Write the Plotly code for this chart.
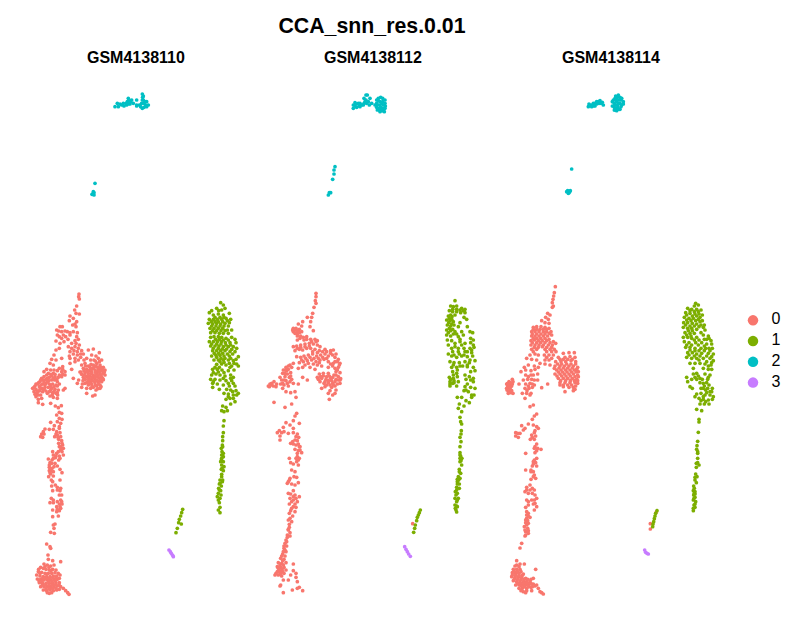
import plotly.graph_objects as go

# values, one list per sample/cluster, in the panel's own units
SAMPLES = ['GSM4138110', 'GSM4138112', 'GSM4138114']
CLUSTERS = ['0', '1', '2', '3']
COLORS = ['#F8766D', '#7CAE00', '#00BFC4', '#C77CFF']

s1_c0 = [(177,42),(176,50),(178,57),(170,78),(164,90),(150,108),(168,100),(178,102),(148,122),(160,115),(170,125),(165,132),(158,135),(168,140),
 (120,140),(127,140),(110,150),(116,153),(125,155),(135,153),(142,155),(150,158),(160,155),(130,165),(137,170),(125,175),(172,158),(170,170),(175,178),(165,182),(108,183),(120,190),(132,185),(118,205),(108,210),(102,225),(95,238),(90,250),(100,255),(125,235),(145,200),(155,205),(165,200),(175,205),(185,212),(205,210),(220,207),(150,215),(160,222),(172,225),(182,232),(190,222),(148,228),(175,240),(192,240),(200,235),(212,240),(150,250),(165,245),(155,268),(185,255),(195,250),(205,258),(215,225),(228,228),(238,218),(222,240),(235,235),(245,240),
 (190,265),(200,268),(210,262),(220,255),(230,250),(240,255),(250,262),(255,270),(245,272),(235,268),(225,270),(215,275),(205,280),(195,278),(185,283),(190,292),(200,290),(210,288),(220,285),(230,282),(240,280),(250,280),(255,285),(245,292),(235,292),(225,296),(215,298),(205,302),(195,310),(205,315),(215,312),(225,308),(235,305),(245,305),(240,315),(230,318),(220,322),(212,325),(240,325),(228,330),(172,310),(185,322),(160,295),(200,340),(225,345),(218,348),(248,295),(228,258),(218,265),(238,245),(208,272),(242,262),(232,275),(222,292),(212,305),(200,325),
 (38,325),(45,318),(52,312),(60,305),(65,295),(72,290),(80,285),(88,292),(95,288),(105,290),(115,292),(125,290),(135,285),(80,268),(92,270),(118,265),(128,260),(135,275),(125,275),(70,300),(78,298),(86,302),(95,300),(104,300),(112,305),(118,312),(108,315),(98,312),(88,312),(78,310),(68,312),(58,320),(48,328),(42,335),(50,340),(58,333),(66,325),(75,322),(85,322),(95,325),(105,328),(115,330),(108,340),(98,338),(88,335),(78,333),(68,335),(48,350),(55,358),(62,345),(90,348),(100,352),(113,345),(112,355),(130,330),(135,325),(55,368),(68,373),(92,370),(106,378),(124,377),(115,383),(62,300),(72,275),(85,280),(100,280),
 (118,397),(125,400),(110,405),(118,415),(126,418),(112,425),(122,430),(92,427),(103,437),(75,447),(70,455),(65,462),(62,470),(72,462),(68,472),(88,448),(100,448),(118,445),(110,455),(120,458),(112,465),(104,470),(122,470),(116,478),(125,482),(116,490),(128,495),(118,500),(130,505),(122,510),(98,515),(126,515),(110,520),(100,525),(118,528),(130,525),(106,533),(85,537),(96,540),(116,540),(90,548),(105,550),(112,558),(88,562),(96,565),(88,572),(100,575),(120,568),(126,578),(92,582),(100,588),(86,590),(94,600),(120,600),(106,615),(95,618),(112,622),(122,625),(98,632),(118,645),(125,645),(94,655),(100,660),(112,665),(122,660),(90,668),(118,672),(126,672),(110,680),(122,685),(98,690),(110,695),(118,692),(115,708),(98,710),(105,732),(100,735),(102,745),(92,757),(103,760),
 (80,792),(90,800),(92,805),(84,825),(85,838),(98,842),(122,845),(72,852),(82,855),(92,858),(102,855),(62,862),(70,865),(78,868),(88,870),(98,868),(55,875),(65,877),(75,880),(85,880),(95,880),(105,878),(115,880),(50,885),(60,888),(70,890),(80,890),(90,890),(100,888),(110,888),(120,885),(52,897),(62,898),(72,900),(82,900),(92,900),(102,898),(112,898),(118,895),(58,908),(68,910),(78,910),(88,910),(98,910),(108,908),(118,908),(62,920),(72,920),(82,920),(92,920),(102,920),(112,918),(122,920),(70,930),(80,932),(90,930),(100,932),(88,940),(110,930),(130,925),(137,932),(143,938),(147,943)]
s1_c0_more = [(197,258),(213,253),(226,243),(243,268),(233,262),(222,262),(212,268),(202,274),(192,272),(183,276),(193,285),(204,286),(214,281),(226,277),(237,275),(248,272),(253,276),(243,286),(234,287),(226,290),(216,292),(206,294),(196,298),(189,302),(200,308),(210,300),(220,303),(230,301),(240,298),(250,299),(236,312),(226,315),(216,318),(208,310),(243,320),(233,326),(180,276),(176,300),(187,312),
 (42,322),(48,312),(56,308),(63,315),(72,305),(82,295),(92,283),(100,295),(110,298),(118,285),(128,283),(105,283),(75,315),(83,305),(92,318),(102,320),(112,318),(60,328),(52,335),(45,343),(72,328),(82,340),(92,330),(102,335),(112,338),(55,345),(65,355),(97,345),
 (112,165),(150,165),(144,178),(155,190),(168,190),(178,195),(162,212),(172,215),(182,222),(150,235),(165,235),(128,268),(112,272),(102,270),(108,240),(118,170),
 (118,440),(108,462),(114,472),(126,490),(122,500),(124,505),(115,515),(108,528),(120,535),(100,535),(95,550),(88,555),(92,572),(102,560),(90,578),(98,605),(112,630),(120,632),(100,668),(120,680),(112,688),(125,665),
 (56,868),(75,860),(87,862),(60,880),(80,882),(93,872),(108,870),(68,895),(78,895),(88,895),(98,893),(108,893),(57,902),(66,905),(86,905),(96,905),(105,903),(67,915),(77,915),(87,915),(97,915),(107,914),(117,914),(78,926),(88,926),(98,926),(108,925),(95,938),(82,938),(118,928)]

s1_c1 = [(602,68),(610,75),(575,92),(590,85),(605,90),(615,85),(628,100),(568,98),(580,105),(595,102),(610,105),(568,118),(580,118),(592,118),(605,118),(618,115),(632,118),(565,130),(578,132),(590,130),(602,132),(615,130),(628,128),(570,145),(582,145),(595,145),(608,145),(622,150),(635,150),(572,158),(585,158),(598,160),(610,160),(625,160),(582,170),(595,170),(605,172),(618,175),(635,172),(645,178),(568,185),(580,185),(592,185),(604,185),(616,188),(630,188),(648,188),(572,198),(585,198),(597,198),(610,200),(625,200),(640,200),(650,205),(578,212),(590,212),(602,212),(615,212),(630,215),(645,215),(575,228),(588,226),(600,226),(612,228),(628,228),(655,230),(582,240),(595,240),(610,240),(625,240),(640,242),(650,252),(590,253),(605,252),(618,255),(635,258),(655,258),(578,268),(592,268),(606,270),(625,272),(642,270),(575,285),(588,282),(600,285),(615,288),(632,285),(640,292),(572,298),(585,298),(600,300),(618,302),(635,302),(578,310),(592,312),(610,315),(628,318),(645,318),(578,322),(598,328),(620,328),(632,330),(648,332),(655,340),(612,340),(625,342),(640,345),(630,355),(618,358),(645,365),(632,372),(608,378),(618,382),(605,392),(612,395),(622,392),
 (612,422),(610,438),(610,458),(608,470),(608,482),(607,495),(604,505),(606,515),(605,525),(610,530),(604,540),(610,545),(605,555),(612,560),(604,568),(610,572),(605,590),(600,600),(607,605),(598,612),(604,618),(596,625),(602,632),(595,640),(603,645),(592,650),(600,655),(598,668),(600,682),(595,690),(600,698),
 (488,688),(485,698),(482,708),(478,718),(476,728),(484,732),(472,745),(468,758)]
s1_c1_more = [(596,92),(585,112),(600,112),(612,112),(622,122),(574,125),(585,125),(595,125),(608,125),(575,138),(588,138),(600,138),(612,138),(625,138),(578,152),(590,152),(603,152),(615,152),(572,172),(587,178),(598,178),(610,180),(625,180),(575,192),(590,192),(603,192),(618,195),(632,195),(580,205),(595,205),(607,207),(620,207),(635,208),(583,220),(596,220),(608,220),(622,222),(638,222),(590,232),(603,235),(615,235),(632,235),(648,238),(600,245),(612,247),(628,250),(642,250),(585,262),(598,262),(630,262),(580,278),(595,276),(612,278),(632,295),(610,295),(580,305),(625,310),(640,310),(638,335),(625,350),(640,355),(650,345),(608,600),(602,545),(608,500),(600,610),(598,630),(605,535),(610,520),(606,565),(595,660),(605,583)]

s1_c2 = [(285,-520),(292,-530),(300,-528),(310,-530),(318,-530),(325,-545),(322,-535),(330,-528),(335,-540),(340,-530),(350,-525),(358,-525),(365,-530),(367,-515),(370,-552),(367,-558),(370,-540),(377,-525),(385,-525),(380,-535),(367,-540),(372,-530),(350,-540),(225,-290),(220,-265),(218,-258),(222,-255),(216,-257),(222,-262),
 (326,-538),(320,-525),(305,-525),(295,-520),(332,-535),(325,-528),(312,-522),(362,-520),(372,-518),(380,-520),(368,-548),(350,-522),(375,-535)]

s1_c3 = [(447,810),(451,815),(454,820),(458,826),(460,830)]

s2_c0 = [(168,40),(168,50),(166,62),(168,70),(162,82),(158,100),(155,112),(142,112),(152,125),(128,125),(115,132),(125,138),(100,145),(108,145),(118,148),(100,155),(110,158),(125,155),(150,140),(160,152),(112,168),(122,168),(132,180),(112,180),(140,178),(152,178),(165,178),(172,182),(100,200),(110,198),(122,195),(135,192),(148,190),(160,192),(172,195),(180,200),(105,212),(118,208),(128,210),(140,205),(152,205),(165,208),(178,212),(195,208),(212,212),(220,210),(228,222),(110,230),(122,232),(132,228),(145,225),(158,222),(170,228),(182,225),(195,222),(205,228),(218,225),(235,238),(118,248),(130,245),(142,242),(155,240),(168,245),(180,240),(192,238),(205,245),(225,245),(240,250),(100,250),(90,255),(115,265),(128,262),(150,262),(165,268),(185,258),(205,262),(218,258),(235,262),(228,275),(178,282),(190,288),(205,280),(222,285),(235,290),(242,296),(185,295),(198,298),(212,295),(228,298),(172,292),(180,305),(192,310),(205,308),(218,310),(232,312),(240,310),(195,320),(215,322),(225,318),(185,325),(210,332),(225,340),(218,345),(205,340),(208,358),
 (28,320),(35,310),(42,305),(50,312),(25,318),(48,320),(60,292),(70,270),(78,262),(85,258),(95,262),(68,280),(80,272),(92,278),(75,290),(88,292),(65,300),(78,302),(90,305),(100,310),(115,312),(72,315),(85,318),(68,325),(78,335),(92,338),(105,335),(142,300),(128,292),(108,352),(42,367),(75,382),(95,372),
 (110,400),(105,408),(100,422),(118,430),(78,428),(70,442),(90,435),(100,445),(58,452),(52,458),(65,458),(60,468),(72,455),(60,480),(85,460),(100,458),(112,462),(116,472),(105,480),(92,490),(100,492),(115,492),(118,500),(105,508),(120,510),(125,518),(112,520),(118,535),(110,545),(88,535),(92,548),(100,552),(115,555),(95,570),(105,575),(90,595),(102,590),(110,592),(85,605),(95,612),(105,615),(115,608),(100,632),(85,640),(105,645),(118,650),(90,655),(100,660),(112,665),(88,672),(100,680),(108,682),(92,692),(105,695),(98,708),(85,720),(95,725),(88,733),(85,748),(90,758),(82,765),(90,768),(78,780),(75,790),(80,798),(72,805),(78,815),(68,822),(75,828),(62,835),(72,838),(55,848),(65,850),(78,848),(52,860),(62,862),(72,862),(58,872),(68,875),(78,870),(45,885),(55,885),(65,888),(100,852),(100,872),(108,880),(92,885),(85,900),(70,900),(108,892),(112,905),(62,915),(60,918),(118,922),(97,930),(112,925),(128,932),(70,938),(458,731)]
s2_c0_more = [(104,150),(112,152),(105,160),(98,150),(112,162),(118,158),(120,175),(130,172),(140,170),(155,185),(168,185),(148,198),(135,200),(122,202),(112,205),(158,215),(172,218),(188,215),(200,215),(212,220),(225,232),(232,245),(220,250),(212,252),(238,255),(225,265),(232,270),(240,278),(228,285),(218,292),(208,288),(200,290),(190,280),(182,290),(175,298),(195,305),(205,302),(215,302),(225,305),(235,300),(240,300),(200,315),(210,315),(220,315),(228,330),(75,280),(85,268),(75,270),(82,282),(92,288),(72,300),(82,310),(95,298),(62,312),(35,315),(40,318),(30,312),(68,310),(125,240),(137,235),(150,232),(162,235),(175,235),(188,232),(200,235),(135,255),(145,250),(160,252),(172,255),(178,248),
 (108,470),(112,482),(98,485),(108,495),(120,500),(115,512),(112,530),(108,535),(115,540),(88,600),(82,610),(92,642),(100,650),(108,655),(95,665),(105,672),(95,685),(88,700),(90,715),(85,750),(88,742),(82,772),(80,785),(72,798),(75,810),(70,815),(65,828),(68,842),(60,855),(70,855),(55,865),(62,882),(72,880),(48,880),(60,878),(52,875),(66,868)]

s2_c1 = [(585,62),(572,78),(580,80),(590,78),(605,85),(615,88),(568,92),(578,95),(590,95),(602,98),(615,98),(565,108),(576,110),(612,112),(620,118),(560,120),(570,122),(580,125),(600,128),(562,135),(572,138),(582,135),(595,140),(622,140),(630,155),(638,158),(560,150),(572,152),(585,155),(605,155),(560,165),(572,168),(595,170),(610,165),(632,175),(640,180),(562,180),(575,182),(600,185),(615,190),(632,188),(640,195),(565,195),(585,200),(605,195),(630,205),(642,202),(578,215),(595,215),(615,215),(635,218),(565,222),(575,228),(590,232),(605,228),(622,230),(638,228),(570,245),(582,248),(598,248),(615,245),(628,248),(645,242),(575,262),(590,262),(608,258),(622,260),(640,262),(578,275),(590,280),(615,285),(632,275),(645,272),(568,292),(580,295),(592,290),(618,298),(632,300),(570,305),(582,308),(595,305),(640,305),(570,318),(590,318),(615,320),(632,322),(645,325),(612,332),(625,335),(642,345),(635,352),(592,352),(605,352),(618,362),(628,368),(598,372),(612,378),(595,385),(605,395),(600,412),(602,425),(605,432),
 (604,452),(603,462),(600,472),(603,485),(600,500),(600,518),(602,528),(605,535),(600,545),(605,555),(598,568),(602,580),(595,590),(600,595),(592,605),(598,612),(590,622),(598,625),(586,635),(592,640),(585,655),(595,655),(590,665),(585,675),(592,680),(588,690),(590,696),
 (481,690),(478,698),(475,705),(472,712),(470,722),(466,735),(464,745),(461,757)]
s2_c1_more = [(578,88),(590,88),(600,90),(610,92),(572,105),(585,105),(568,115),(575,118),(566,128),(575,132),(568,145),(578,148),(565,158),(580,162),(590,162),(600,178),(585,190),(575,205),(595,205),(612,205),(622,215),(635,210),(582,225),(598,222),(612,225),(630,240),(622,255),(580,255),(600,258),(592,270),(580,285),(572,298),(582,302),(578,310),(570,312),(628,290),(640,295),(622,312),(618,330),(635,345),(605,535),(600,535),(598,575),(596,600),(592,612),(590,630),(588,645),(592,660),(586,685),(590,678),(592,598),(600,525),(603,542)]

s2_c2 = [(280,-525),(280,-515),(290,-528),(298,-522),(305,-525),(312,-530),(318,-540),(322,-555),(330,-545),(335,-530),(345,-525),(350,-525),(360,-535),(368,-535),(375,-540),(358,-525),(370,-525),(362,-518),(375,-515),(370,-508),(355,-538),(225,-340),(222,-330),(222,-318),(218,-302),(212,-262),(208,-262),(205,-255),
 (285,-522),(285,-532),(295,-530),(300,-530),(310,-525),(320,-530),(325,-535),(315,-535),(328,-525),(318,-555),(312,-545),(300,-520),(290,-518),(350,-530),(350,-518),(355,-545),(362,-548),(368,-545),(375,-530),(352,-510),(358,-510),(368,-515),(376,-522),(350,-540),(365,-528),(358,-515),(373,-505),(365,-508),(360,-505)]

s2_c3 = [(434,800),(438,808),(442,815),(446,822),(451,829)]

s3_c0 = [(181,20),(178,38),(176,48),(174,58),(172,68),(175,78),(172,82),(158,100),(165,105),(152,112),(160,118),(140,122),(150,128),(162,130),(115,142),(125,140),(138,140),(150,142),(162,145),(110,155),(120,155),(132,155),(145,155),(155,155),(168,155),(110,168),(120,168),(132,168),(145,168),(158,168),(170,165),(108,182),(118,180),(130,182),(142,182),(155,182),(175,185),(108,195),(120,195),(132,195),(145,195),(160,195),(172,195),(182,190),(110,208),(125,208),(150,208),(165,208),(178,208),(205,220),(222,218),(238,218),(105,225),(120,222),(148,225),(162,225),(175,225),(190,232),(210,232),(225,230),(240,232),(95,235),(110,238),(125,240),(135,250),(150,240),(162,240),(182,245),(198,245),(212,245),(228,242),(242,245),(88,262),(100,255),(118,258),(150,252),(165,255),(180,258),(195,258),(208,258),(222,258),(235,258),(248,262),(78,275),(92,270),(108,272),(120,268),(130,262),(185,270),(198,270),(212,270),(225,270),(238,270),(250,275),(92,285),(115,285),(128,282),(180,282),(195,282),(208,282),(222,282),(235,282),(248,285),(85,300),(98,298),(110,298),(128,300),(190,295),(205,295),(218,295),(232,295),(245,298),(92,312),(105,310),(118,315),(158,312),(140,323),(195,308),(210,308),(225,308),(240,308),(248,310),(90,325),(102,325),(112,322),(205,320),(222,322),(235,322),(210,335),(235,332),(95,340),(108,340),(90,355),(105,345),(72,312),(82,340),
 (35,312),(42,305),(52,298),(38,318),(46,315),(35,325),(44,325),(52,312),(40,335),(48,338),(54,340),
 (115,375),(105,380),(125,402),(118,408),(112,418),(80,437),(100,432),(90,445),(115,435),(125,440),(130,445),(62,458),(68,460),(75,460),(85,450),(62,468),(70,472),(120,452),(110,465),(122,468),(106,478),(118,478),(125,492),(118,505),(128,505),(138,508),(120,518),(92,520),(125,535),(115,545),(122,548),(112,558),(125,558),(92,570),(108,570),(115,575),(118,585),(108,598),(122,595),(105,615),(95,622),(112,625),(90,635),(100,640),(118,630),(120,645),(95,660),(118,660),(125,655),(100,675),(115,672),(125,680),(92,682),(118,690),(95,695),(100,700),(105,712),(95,715),(92,728),(100,730),(88,740),(98,745),(92,755),(100,760),(90,768),(80,790),(75,804),
 (65,842),(65,855),(75,852),(88,852),(55,868),(65,868),(75,868),(122,868),(52,878),(62,880),(72,880),(85,882),(115,895),(50,890),(60,892),(70,892),(80,892),(92,895),(55,902),(65,905),(75,905),(85,905),(95,905),(105,905),(62,915),(72,915),(82,915),(92,915),(102,915),(115,912),(72,925),(82,925),(95,925),(108,922),(120,918),(85,935),(95,932),(110,932),(130,925),(135,935),(140,938),(145,942),
 (484,696),(466,731),(466,747)]
s3_c0_more = [(115,148),(125,148),(135,148),(145,148),(155,148),(112,162),(125,162),(138,162),(150,162),(163,160),(115,175),(125,175),(137,175),(150,175),(162,178),(112,188),(125,188),(137,188),(150,188),(165,188),(118,202),(130,202),(142,200),(155,202),(170,202),(115,215),(155,215),(170,215),(183,215),(130,225),(155,232),(170,235),(195,238),(205,238),(218,238),(232,238),(188,252),(200,252),(215,252),(228,252),(242,252),(178,265),(192,264),(205,264),(218,264),(232,264),(245,268),(190,276),(203,276),(216,276),(230,276),(243,276),(186,288),(200,288),(213,288),(226,288),(240,290),(250,290),(197,302),(212,302),(226,302),(238,302),(248,302),(205,315),(218,315),(230,315),(242,318),(195,315),(240,328),(100,290),(108,285),(118,300),(100,318),(96,332),(112,312),
 (38,310),(46,308),(42,318),(50,318),(36,330),(42,332),(50,332),(46,322),(40,340),(54,305),
 (118,458),(112,472),(120,500),(125,512),(115,552),(118,540),(108,575),(115,590),(95,630),(105,630),(112,640),(100,665),(120,670),(110,660),(95,705),(100,708),(92,720),(98,722),(95,735),(90,750),(100,752),(92,765),
 (60,858),(72,860),(58,875),(68,875),(78,875),(52,885),(62,886),(72,886),(82,886),(58,897),(68,898),(78,898),(88,898),(98,898),(108,898),(68,910),(78,910),(88,910),(98,910),(108,910),(78,918),(88,920),(100,920),(112,920),(78,932),(92,938),(125,915)]

s3_c1 = [(602,70),(610,75),(578,85),(590,88),(605,88),(618,90),(572,98),(585,100),(600,102),(612,102),(622,105),(568,112),(582,115),(595,115),(610,118),(622,122),(566,128),(578,128),(592,130),(605,132),(618,135),(628,135),(565,142),(578,145),(590,145),(605,148),(630,150),(570,158),(585,160),(598,160),(625,165),(640,168),(565,172),(578,172),(590,175),(605,172),(635,178),(648,182),(568,185),(582,188),(602,188),(620,188),(635,192),(650,192),(572,202),(585,202),(600,205),(618,205),(632,205),(652,205),(578,218),(592,218),(605,222),(620,220),(640,220),(655,222),(575,232),(590,235),(605,235),(625,235),(645,235),(655,242),(585,250),(600,250),(615,250),(630,252),(648,255),(595,265),(625,265),(640,268),(650,268),(575,292),(595,282),(610,288),(630,282),(645,285),(578,305),(590,298),(605,298),(622,298),(638,298),(585,320),(615,308),(628,318),(642,315),(652,325),(592,325),(618,325),(632,330),(645,335),(605,342),(618,340),(630,345),(645,345),(655,350),(600,350),(612,355),(625,358),(640,360),(652,358),(615,372),(628,372),(642,372),(605,388),(620,392),
 (612,418),(612,426),(610,457),(608,484),(606,497),(605,508),(608,515),(608,535),(608,548),(612,555),(604,562),(602,582),(606,590),(600,600),(604,608),(596,618),(595,632),(600,635),(596,645),(600,652),(595,660),(602,665),(597,675),(600,682),(595,692),
 (486,692),(482,700),(480,708),(478,716),(476,725),(474,732),(473,740)]
s3_c1_more = [(598,78),(585,92),(598,95),(610,95),(575,105),(592,108),(605,108),(615,112),(575,120),(588,122),(602,122),(615,125),(572,135),(585,138),(598,138),(612,140),(625,142),(580,152),(592,152),(618,158),(575,165),(588,168),(598,180),(612,180),(628,178),(642,175),(575,195),(590,195),(610,195),(628,198),(642,205),(585,210),(600,212),(612,212),(628,212),(645,212),(582,225),(598,228),(615,228),(635,228),(650,230),(612,240),(635,245),(650,248),(640,258),(605,280),(600,292),(615,295),(640,292),(625,310),(635,308),(650,335),(625,325),(638,325),(635,338),(625,350),(618,362),(632,365),(608,520),(604,550),(600,592),(598,625),(600,642),(597,655),(600,672),(595,685),(598,640)]

s3_c2 = [(280,-520),(288,-525),(295,-530),(303,-532),(310,-535),(318,-530),(325,-525),(300,-522),(360,-545),(368,-550),(372,-540),(365,-535),(375,-530),(385,-535),(358,-530),(368,-525),(378,-520),(362,-515),(372,-512),(358,-518),(230,-333),(218,-268),(224,-265),(222,-262),
 (282,-528),(290,-520),(298,-527),(305,-528),(312,-530),(305,-535),(295,-522),(315,-538),(322,-533),(355,-540),(362,-552),(370,-555),(375,-548),(380,-545),(385,-528),(380,-525),(360,-525),(352,-535),(352,-522),(360,-510),(368,-518),(375,-512),(370,-530),(362,-540),(378,-540),(365,-508),(358,-510),(365,-545),(215,-265),(220,-260),(226,-268)]

s3_c3 = [(449,810),(452,817),(456,820),(460,822)]

panels = [
    [s1_c0 + s1_c0_more, s1_c1 + s1_c1_more, s1_c2, s1_c3],
    [s2_c0 + s2_c0_more, s2_c1 + s2_c1_more, s2_c2, s2_c3],
    [s3_c0 + s3_c0_more, s3_c1 + s3_c1_more, s3_c2, s3_c3],
]

# browser body margin is 8px, so the figure sits at (8, 8) on the page
W, H = 782, 625
LEFTS = [20, 260, 495]
TITLE_X = [135.5, 372.5, 610.5]
TOP, BOTTOM = 70, 600


def xdom(a, b):
    return [(a - 8) / W, (b - 8) / W]


def ydom(a, b):
    return [1 - (b - 8) / H, 1 - (a - 8) / H]


fig = go.Figure()
layout = {}
for i, (sample, clusters) in enumerate(zip(SAMPLES, panels), start=1):
    for k, pts in enumerate(clusters):
        fig.add_trace(go.Scatter(
            x=[p[0] for p in pts], y=[p[1] for p in pts],
            mode='markers', name=CLUSTERS[k], showlegend=False,
            marker=dict(color=COLORS[k], size=3.7, line_width=0),
            xaxis=f'x{i}', yaxis=f'y{i}'))
    left = LEFTS[i - 1]
    layout[f'xaxis{i}'] = dict(domain=xdom(left, left + 230), range=[0, 690], visible=False)
    layout[f'yaxis{i}'] = dict(domain=ydom(TOP, BOTTOM), range=[960, -630], visible=False)
    fig.add_annotation(x=(TITLE_X[i - 1] - 8) / W, y=1 - (58 - 8) / H,
                       xref='paper', yref='paper', xanchor='center', yanchor='middle',
                       text=f'<b>{sample}</b>', showarrow=False,
                       font=dict(family='Liberation Sans', size=16, color='black'))

# legend on its own little axis
for k, label in enumerate(CLUSTERS):
    fig.add_trace(go.Scatter(
        x=[0], y=[k], mode='markers', showlegend=False,
        marker=dict(color=COLORS[k], size=10.5, line_width=0),
        xaxis='x4', yaxis='y4'))
    fig.add_trace(go.Scatter(
        x=[23], y=[k], mode='text', text=[label], textposition='middle center',
        textfont=dict(family='Liberation Sans', size=16, color='black'),
        showlegend=False, xaxis='x4', yaxis='y4', cliponaxis=False))
layout['xaxis4'] = dict(domain=xdom(743, 788), range=[-10, 35], visible=False)
layout['yaxis4'] = dict(domain=ydom(310, 393), range=[3.5, -0.5], visible=False)

fig.update_layout(
    width=W, height=H, margin=dict(l=0, r=0, t=0, b=0),
    paper_bgcolor='white', plot_bgcolor='white',
    hovermode=False,
    title=dict(text='<b>CCA_snn_res.0.01</b>', x=(372 - 8) / W, xanchor='center',
               y=1 - (26 - 8) / H, yanchor='middle',
               font=dict(family='Liberation Sans', size=21.3, color='black')),
    **layout)

fig.write_html("out.html")
